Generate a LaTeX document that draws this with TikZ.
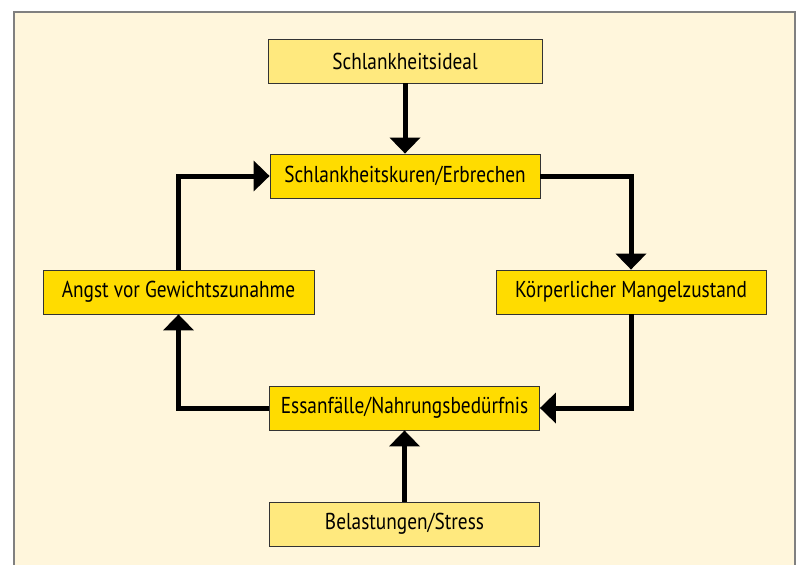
\documentclass[tikz,border=0pt]{standalone}
\usepackage{fontspec}
\setmainfont{PT Sans}[FakeStretch=0.84]
\usetikzlibrary{arrows.meta}
\definecolor{frame}{HTML}{FFF6DC}
\definecolor{framedraw}{HTML}{808080}
\definecolor{boxdark}{HTML}{FFDC00}
\definecolor{boxlight}{HTML}{FFE97E}
\tikzset{
  box/.style={draw=black!80, line width=0.8pt, minimum width=270pt, minimum height=44pt, inner sep=0pt, font=\fontsize{23pt}{26pt}\selectfont},
  darkbox/.style={box, fill=boxdark},
  lightbox/.style={box, fill=boxlight},
  arr/.style={line width=5pt, line join=miter, -{Triangle[width=30pt,length=16pt]}}
}
\begin{document}
\begin{tikzpicture}[x=1pt,y=-1pt]
\useasboundingbox (0,0) rectangle (798,565);
\fill[white] (0,0) rectangle (798,565);
\path[fill=frame, draw=framedraw, line width=1.2pt] (14,12) rectangle (795,570);
\node[lightbox, minimum width=274pt] (ideal) at (405,61) {Schlankheitsideal};
\node[darkbox] (kuren) at (405,176) {Schlankheitskuren/Erbrechen};
\node[darkbox] (korper) at (631,292) {Körperlicher Mangelzustand};
\node[darkbox] (essen) at (404.5,408) {Essanfälle/Nahrungsbedürfnis};
\node[lightbox] (belast) at (404.5,524) {Belastungen/Stress};
\node[darkbox, minimum width=271pt] (angst) at (178.5,292) {Angst vor Gewichtszunahme};
\draw[arr] (ideal) -- (kuren);
\draw[arr] (kuren.east) -| (korper.north);
\draw[arr] (korper.south) |- (essen.east);
\draw[arr] (belast) -- (essen);
\draw[arr] (essen.west) -| (angst.south);
\draw[arr] (angst.north) |- (kuren.west);
\end{tikzpicture}
\end{document}
